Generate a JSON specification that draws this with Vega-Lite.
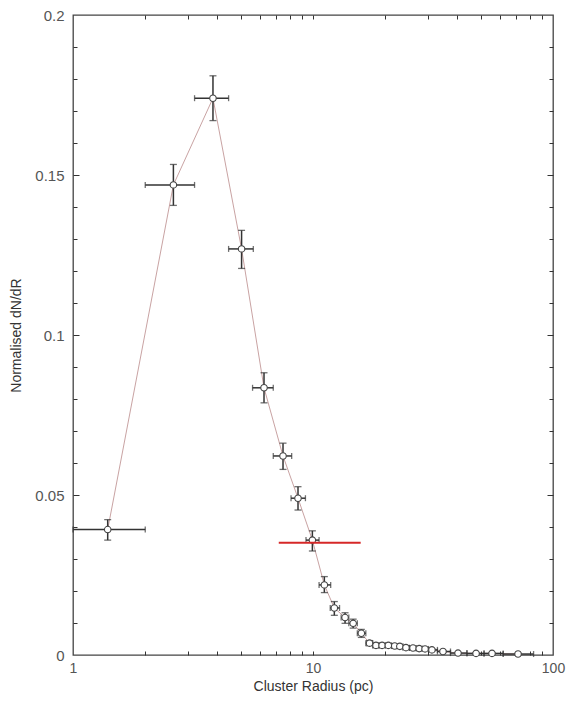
{
  "$schema": "https://vega.github.io/schema/vega-lite/v6.json",
  "width": 480,
  "height": 640,
  "autosize": {"type": "none"},
  "padding": {"left": 73, "top": 15, "right": 17, "bottom": 53},
  "background": "white",
  "config": {
    "view": {"stroke": "#444", "strokeWidth": 1.3},
    "axis": {"labelFont": "Liberation Sans", "titleFont": "Liberation Sans", "grid": false}
  },
  "datasets": {
    "pts": [
      {"x": 1.395, "y": 0.0392, "xlo": 1.0, "xhi": 2.0, "ylo": 0.0359, "yhi": 0.0423},
      {"x": 2.62, "y": 0.1469, "xlo": 2.0, "xhi": 3.21, "ylo": 0.1405, "yhi": 0.1533},
      {"x": 3.83, "y": 0.174, "xlo": 3.21, "xhi": 4.45, "ylo": 0.167, "yhi": 0.181},
      {"x": 5.04, "y": 0.1269, "xlo": 4.45, "xhi": 5.64, "ylo": 0.1208, "yhi": 0.1327},
      {"x": 6.25, "y": 0.0835, "xlo": 5.6, "xhi": 6.83, "ylo": 0.0788, "yhi": 0.0882},
      {"x": 7.5, "y": 0.0622, "xlo": 6.83, "xhi": 8.15, "ylo": 0.058, "yhi": 0.0662},
      {"x": 8.66, "y": 0.049, "xlo": 8.1, "xhi": 9.3, "ylo": 0.0453, "yhi": 0.0526},
      {"x": 9.94, "y": 0.0359, "xlo": 9.35, "xhi": 10.6, "ylo": 0.0325, "yhi": 0.0388},
      {"x": 11.15, "y": 0.0219, "xlo": 10.6, "xhi": 11.85, "ylo": 0.0195, "yhi": 0.0245},
      {"x": 12.27, "y": 0.0147, "xlo": 11.8, "xhi": 12.9, "ylo": 0.0124, "yhi": 0.0167},
      {"x": 13.6, "y": 0.0117, "xlo": 13.1, "xhi": 14.1, "ylo": 0.0099, "yhi": 0.0132},
      {"x": 14.7, "y": 0.0099, "xlo": 14.1, "xhi": 15.3, "ylo": 0.0084, "yhi": 0.0112},
      {"x": 15.9, "y": 0.0068, "xlo": 15.3, "xhi": 16.6, "ylo": 0.0055, "yhi": 0.008},
      {"x": 17.2, "y": 0.0037, "xlo": 16.6, "xhi": 17.75, "ylo": 0.0029, "yhi": 0.0045},
      {"x": 18.3, "y": 0.003, "xlo": 17.75, "xhi": 18.85, "ylo": 0.0023, "yhi": 0.0037},
      {"x": 19.4, "y": 0.003, "xlo": 18.85, "xhi": 20.0, "ylo": 0.0024, "yhi": 0.0036},
      {"x": 20.6, "y": 0.003, "xlo": 20.0, "xhi": 21.25, "ylo": 0.0024, "yhi": 0.0036},
      {"x": 21.9, "y": 0.0028, "xlo": 21.25, "xhi": 22.45, "ylo": 0.0023, "yhi": 0.0033},
      {"x": 23.0, "y": 0.0027, "xlo": 22.45, "xhi": 23.7, "ylo": 0.0022, "yhi": 0.0032},
      {"x": 24.4, "y": 0.0023, "xlo": 23.7, "xhi": 25.2, "ylo": 0.0019, "yhi": 0.0027},
      {"x": 26.1, "y": 0.0022, "xlo": 25.2, "xhi": 26.9, "ylo": 0.0018, "yhi": 0.0026},
      {"x": 27.7, "y": 0.002, "xlo": 26.9, "xhi": 28.5, "ylo": 0.0016, "yhi": 0.0024},
      {"x": 29.3, "y": 0.0019, "xlo": 28.5, "xhi": 30.3, "ylo": 0.0016, "yhi": 0.0022},
      {"x": 31.3, "y": 0.0016, "xlo": 30.3, "xhi": 33.0, "ylo": 0.0013, "yhi": 0.0019},
      {"x": 34.8, "y": 0.0011, "xlo": 33.0, "xhi": 37.4, "ylo": 0.0008, "yhi": 0.0014},
      {"x": 40.2, "y": 0.0006, "xlo": 37.4, "xhi": 43.8, "ylo": 0.0004, "yhi": 0.0008},
      {"x": 47.8, "y": 0.0005, "xlo": 43.8, "xhi": 51.6, "ylo": 0.0003, "yhi": 0.0007},
      {"x": 55.7, "y": 0.0005, "xlo": 51.6, "xhi": 62.0, "ylo": 0.0003, "yhi": 0.0007},
      {"x": 71.5, "y": 0.0003, "xlo": 62.0, "xhi": 83.0, "ylo": 0.0001, "yhi": 0.0005}
    ],
    "red": [{"x1": 7.2, "x2": 15.8, "y": 0.0351}]
  },
  "data": {"name": "pts"},
  "resolve": {"axis": {"x": "independent", "y": "independent"}},
  "layer": [
    {
      "mark": {"type": "line", "color": "#c9a3a3", "strokeWidth": 1},
      "encoding": {
        "x": {"field": "x", "type": "quantitative",
              "scale": {"type": "log", "domain": [1, 100], "nice": false},
              "axis": {"orient": "bottom", "values": [1, 10, 100], "format": "~g", "ticks": false, "tickSize": 0, "domain": false,
                       "labelFlush": false, "labelPadding": 6, "labelFontSize": 14, "labelColor": "#555",
                       "title": "Cluster Radius (pc)", "titleFontSize": 14, "titleFontWeight": "normal", "titleColor": "#333", "titlePadding": 4}},
        "y": {"field": "y", "type": "quantitative",
              "scale": {"domain": [0, 0.2], "nice": false, "zero": false},
              "axis": {"orient": "left", "values": [0, 0.05, 0.1, 0.15, 0.2], "format": "~g", "ticks": false, "tickSize": 0, "domain": false,
                       "labelPadding": 9, "labelFontSize": 15, "labelColor": "#555",
                       "title": "Normalised dN/dR", "titleFontSize": 14, "titleFontWeight": "normal", "titleColor": "#333", "titlePadding": 11}}
      }
    },
    {
      "mark": {"type": "rule", "color": "#333", "strokeWidth": 1.5},
      "encoding": {
        "x": {"field": "xlo", "type": "quantitative",
              "axis": {"orient": "bottom", "values": [2, 3, 4, 5, 6, 7, 8, 9, 10, 20, 30, 40, 50, 60, 70, 80, 90], "labels": false, "domain": false, "title": null,
                       "tickSize": 4, "offset": -4, "tickColor": "#333", "tickWidth": 1}},
        "x2": {"field": "xhi"},
        "y": {"field": "y", "type": "quantitative",
              "axis": {"orient": "left", "values": [0.05, 0.1, 0.15], "labels": false, "domain": false, "title": null,
                       "tickSize": 6, "offset": -6, "tickColor": "#333", "tickWidth": 1}}
      }
    },
    {
      "mark": {"type": "rule", "color": "#333", "strokeWidth": 1.5},
      "encoding": {
        "x": {"field": "x", "type": "quantitative",
              "axis": {"orient": "top", "values": [2, 3, 4, 5, 6, 7, 8, 9, 10, 20, 30, 40, 50, 60, 70, 80, 90], "labels": false, "domain": false, "title": null,
                       "tickSize": 4, "offset": -4, "tickColor": "#333", "tickWidth": 1}},
        "y": {"field": "ylo", "type": "quantitative",
              "axis": {"orient": "left", "values": [0.01, 0.02, 0.03, 0.04, 0.06, 0.07, 0.08, 0.09, 0.11, 0.12, 0.13, 0.14, 0.16, 0.17, 0.18, 0.19], "labels": false, "domain": false, "title": null,
                       "tickSize": 4, "offset": -4, "tickColor": "#333", "tickWidth": 1}},
        "y2": {"field": "yhi"}
      }
    },
    {
      "mark": {"type": "tick", "orient": "vertical", "color": "#333", "size": 6, "thickness": 1.3},
      "encoding": {
        "x": {"field": "xlo", "type": "quantitative", "axis": null},
        "y": {"field": "y", "type": "quantitative",
              "axis": {"orient": "right", "values": [0.05, 0.1, 0.15], "labels": false, "domain": false, "title": null,
                       "tickSize": 6, "offset": -6, "tickColor": "#333", "tickWidth": 1}}
      }
    },
    {
      "mark": {"type": "tick", "orient": "vertical", "color": "#333", "size": 6, "thickness": 1.3},
      "encoding": {
        "x": {"field": "xhi", "type": "quantitative", "axis": null},
        "y": {"field": "y", "type": "quantitative",
              "axis": {"orient": "right", "values": [0.01, 0.02, 0.03, 0.04, 0.06, 0.07, 0.08, 0.09, 0.11, 0.12, 0.13, 0.14, 0.16, 0.17, 0.18, 0.19], "labels": false, "domain": false, "title": null,
                       "tickSize": 4, "offset": -4, "tickColor": "#333", "tickWidth": 1}}
      }
    },
    {
      "mark": {"type": "tick", "orient": "horizontal", "color": "#333", "size": 7, "thickness": 1.3},
      "encoding": {
        "x": {"field": "x", "type": "quantitative", "axis": null},
        "y": {"field": "ylo", "type": "quantitative", "axis": null}
      }
    },
    {
      "mark": {"type": "tick", "orient": "horizontal", "color": "#333", "size": 7, "thickness": 1.3},
      "encoding": {
        "x": {"field": "x", "type": "quantitative", "axis": null},
        "y": {"field": "yhi", "type": "quantitative", "axis": null}
      }
    },
    {
      "mark": {"type": "point", "shape": "circle", "filled": false, "fill": "white", "fillOpacity": 1, "stroke": "#444", "strokeWidth": 1.1, "size": 42, "opacity": 1},
      "encoding": {
        "x": {"field": "x", "type": "quantitative", "axis": null},
        "y": {"field": "y", "type": "quantitative", "axis": null}
      }
    },
    {
      "data": {"name": "red"},
      "mark": {"type": "rule", "color": "#d62828", "strokeWidth": 2},
      "encoding": {
        "x": {"field": "x1", "type": "quantitative", "axis": null},
        "x2": {"field": "x2"},
        "y": {"field": "y", "type": "quantitative", "axis": null}
      }
    }
  ]
}
